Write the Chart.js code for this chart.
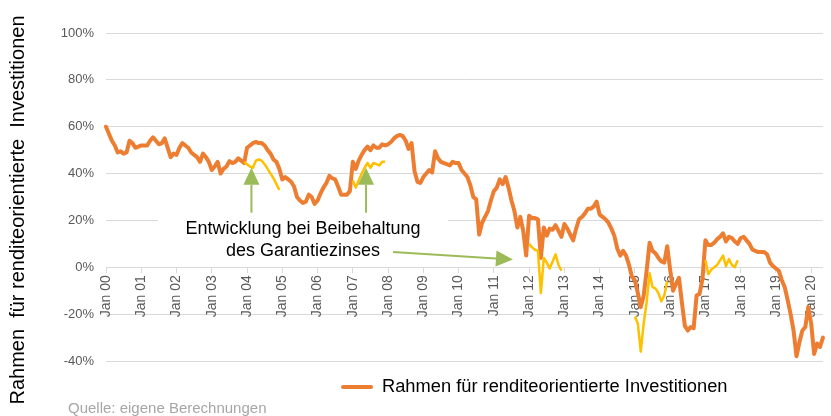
<!DOCTYPE html>
<html>
<head>
<meta charset="utf-8">
<script src="https://cdn.jsdelivr.net/npm/chart.js@4.4.1/dist/chart.umd.min.js"></script>
<style>
  html, body { margin: 0; padding: 0; background: #fff; }
  #wrap { position: relative; width: 831px; height: 416px; }
</style>
</head>
<body>
<div id="wrap"><canvas id="c" width="831" height="416"></canvas></div>
<script>
// ---------- data ----------
const monthNames = ['Jan','Feb','Mrz','Apr','Mai','Jun','Jul','Aug','Sep','Okt','Nov','Dez'];
const yearTicks = ['Jan 00','Jan 01','Jan 02','Jan 03','Jan 04','Jan 05','Jan 06','Jan 07','Jan 08','Jan 09','Jan 10',
                   'Jan 11','Jan 12','Jan 13','Jan 14','Jan 15','Jan 16','Jan 17','Jan 18','Jan 19','Jan 20'];
const seriesName = 'Rahmen für renditeorientierte Investitionen';
const yTitle = 'Rahmen  für renditeorientierte  Investitionen';
const sourceText = 'Quelle: eigene Berechnungen';
const noteLines = ['Entwicklung bei Beibehaltung', 'des Garantiezinses'];

// monthly values (%), Jan 2000 ... May 2020
const rahmen = [
  60, 57, 54, 52, 49, 49.5, 48.5, 49, 54, 53, 51, 51.5,          // 2000
  52, 52, 52, 54, 55.5, 54, 52.5, 53, 55, 51, 47, 48.5,          // 2001
  48, 51, 53, 52, 51, 49, 48, 47, 45, 48.5, 47, 45,              // 2002
  41.5, 43, 45, 40, 42, 43, 45.3, 44.5, 45, 46.5, 45.5, 44.5,    // 2003
  51, 52, 53, 53.5, 53, 53, 52, 50, 48.5, 46, 45, 42,            // 2004
  37.5, 38.5, 37.5, 36.5, 34.5, 30, 28.5, 27.5, 28, 31, 30, 27,  // 2005
  28.5, 31.5, 34, 36, 39, 38, 37.5, 34.5, 31, 31, 31, 32.5,      // 2006
  45, 42, 45.5, 48, 50, 51.5, 50, 52, 51, 51, 52.5, 52,          // 2007
  52.5, 53.5, 55, 56, 56.5, 56, 54, 50.5, 53, 41, 36.5, 36,      // 2008
  38.5, 40, 41.5, 40.5, 49.5, 46.5, 45, 44.5, 44, 43.5, 45, 44.5,// 2009
  44.5, 41.5, 40, 38.5, 35, 30, 29, 14, 19, 21.5, 24, 28.5,      // 2010
  32.5, 34, 37.5, 35.5, 38.5, 34, 28.5, 24, 17, 21.5, 15.5, 5,   // 2011
  22, 21, 21, 20.5, 4, 17, 13.5, 16.5, 16, 18, 15.5, 13,         // 2012
  18.5, 16.5, 14, 11.5, 16.5, 20.5, 21.5, 23, 25, 25, 26, 28,    // 2013
  22.5, 21.5, 20.5, 19, 16.5, 13.5, 8, 5, 7, 5, 1, -4,           // 2014
  -5.5, -11, -17, -12, -1.5, 10.5, 7, 6, 4, 2.5, 2, 9,           // 2015
  -1, -10, -7, -4.5, -15, -25, -27, -25.5, -26, -12, -11.5, -5,  // 2016
  11.5, 9.5, 9.5, 10.5, 12, 13, 14.5, 11, 13, 12.5, 11, 10,      // 2017
  12.5, 13, 11.5, 10, 7.5, 7, 6.5, 6.5, 6.5, 5.5, 2, 0.5,        // 2018
  -0.5, -1.5, -5.5, -8.5, -14, -20, -27, -38, -32, -27, -25.5, -17, // 2019
  -24, -37, -32.5, -34, -30                                      // 2020
];

// development if the guaranteed rate had been kept (segments)
const garantie2004 = [45, 44, 43, 42.5, 45.5, 46, 45.5, 44, 42, 40, 38, 35.5, 33];   // from Dez 03
const garantie2007 = [37, 34, 37, 40, 42.5, 44.5, 42.5, 44.5, 44, 43.5, 45, 45];      // from Jan 07
const garantie2012 = [10, 8.5, 7.5, 7, -11, 4, 2, -0.5, 2.5, 5.5, 1, -1.5];          // from Jan 12
const garantie2015 = [-21, -24, -36, -24, -15, -2.5, -8.5, -9, -11, -14.5, -12, -6]; // from Jan 15
const garantie2017 = [3, -3, -1, 0, 1, 3, 5, 0.5, 3.5, 1, 0, 3];                     // from Jan 17
const garantieStarts = ['Dez 03', 'Jan 07', 'Jan 12', 'Jan 15', 'Jan 17'];

// ---------- build tables ----------
const categories = [];
for (let y = 0; categories.length < rahmen.length; y++) {
  for (let m = 0; m < 12 && categories.length < rahmen.length; m++) {
    categories.push(monthNames[m] + ' ' + String(y).padStart(2, '0'));
  }
}
const garantie = new Array(categories.length).fill(null);
[garantie2004, garantie2007, garantie2012, garantie2015, garantie2017].forEach((seg, k) => {
  const s = categories.indexOf(garantieStarts[k]);
  seg.forEach((v, i) => { garantie[s + i] = v; });
});

// ---------- styling ----------
const FONT = '"Liberation Sans", Arial, sans-serif';
const ORANGE = '#ED7D31';
const YELLOW = '#FFC000';
const GREEN = '#9BBB59';
const GRID = '#D9D9D9';
const TICK = '#595959';

function arrow(ctx, x1, y1, x2, y2, head, halfW) {
  const a = Math.atan2(y2 - y1, x2 - x1);
  const bx = x2 - head * Math.cos(a), by = y2 - head * Math.sin(a);
  ctx.beginPath();
  ctx.moveTo(x1, y1); ctx.lineTo(bx, by); ctx.stroke();
  ctx.beginPath();
  ctx.moveTo(x2, y2);
  ctx.lineTo(bx + halfW * Math.sin(a), by - halfW * Math.cos(a));
  ctx.lineTo(bx - halfW * Math.sin(a), by + halfW * Math.cos(a));
  ctx.closePath(); ctx.fill();
}

const annotations = {
  id: 'annotations',
  beforeDatasetsDraw(chart) {
    const ctx = chart.ctx;
    ctx.save();
    ctx.fillStyle = '#fff';
    ctx.fillRect(158, 213, 290, 50);
    ctx.restore();
  },
  afterDatasetsDraw(chart) {
    const ctx = chart.ctx, xs = chart.scales.x, ys = chart.scales.y;
    ctx.save();
    ctx.strokeStyle = GREEN; ctx.fillStyle = GREEN; ctx.lineWidth = 2;
    [49.5, 88.5].forEach(idx => {
      const x = xs.getPixelForValue(idx);
      arrow(ctx, x, ys.getPixelForValue(23.3), x, ys.getPixelForValue(42.5), 17, 8);
    });
    arrow(ctx, 393, 252, xs.getPixelForValue(138.5), ys.getPixelForValue(3.3), 17, 8);
    ctx.fillStyle = '#000';
    ctx.font = '18px ' + FONT;
    ctx.textAlign = 'center'; ctx.textBaseline = 'middle';
    ctx.fillText(noteLines[0], 303, 229);
    ctx.fillText(noteLines[1], 303, 251);
    ctx.restore();
  },
  afterDraw(chart) {
    const ctx = chart.ctx;
    ctx.save();
    ctx.translate(18, 210);
    ctx.rotate(-Math.PI / 2);
    ctx.fillStyle = '#000';
    ctx.font = '20px ' + FONT;
    ctx.textAlign = 'center'; ctx.textBaseline = 'middle';
    ctx.fillText(yTitle, 0, 0);
    ctx.restore();
    ctx.save();
    ctx.strokeStyle = ORANGE; ctx.lineWidth = 4; ctx.lineCap = 'round';
    ctx.beginPath(); ctx.moveTo(343, 387); ctx.lineTo(371, 387); ctx.stroke();
    ctx.fillStyle = '#000';
    ctx.font = '18.3px ' + FONT;
    ctx.textAlign = 'left'; ctx.textBaseline = 'middle';
    ctx.fillText(chart.data.datasets[0].label, 382, 387);
    ctx.fillStyle = '#A6A6A6';
    ctx.font = '15px ' + FONT;
    ctx.fillText(sourceText, 68, 409);
    ctx.restore();
  }
};

new Chart(document.getElementById('c'), {
  type: 'line',
  data: {
    labels: categories,
    datasets: [
      { label: seriesName, data: rahmen, borderColor: ORANGE, borderWidth: 4,
        pointRadius: 0, tension: 0, borderJoinStyle: 'round', borderCapStyle: 'round' },
      { label: noteLines.join(' '), data: garantie, borderColor: YELLOW, borderWidth: 2.5,
        pointRadius: 0, tension: 0, spanGaps: false, order: -1, borderJoinStyle: 'round' }
    ]
  },
  options: {
    responsive: false,
    animation: false,
    layout: { padding: { top: 33, bottom: 55, left: 0, right: 1 } },
    plugins: { legend: { display: false }, tooltip: { enabled: false } },
    scales: {
      x: {
        position: { y: 0 },
        grid: { drawOnChartArea: false, drawTicks: true, tickLength: 5, color: GRID },
        border: { display: true, color: GRID },
        ticks: {
          autoSkip: false, maxRotation: 90, minRotation: 90, padding: 3,
          color: TICK, font: { family: FONT, size: 14 },
          callback: function (v) {
            const l = this.getLabelForValue(v);
            return yearTicks.includes(l) ? l : null;
          }
        }
      },
      y: {
        min: -40, max: 100,
        afterFit: s => { s.width = 106; },
        grid: { color: GRID, drawTicks: false },
        border: { display: false },
        ticks: { stepSize: 20, padding: 12, color: TICK, font: { family: FONT, size: 13 },
                 callback: v => v + '%' }
      }
    }
  },
  plugins: [annotations]
});
</script>
</body>
</html>
